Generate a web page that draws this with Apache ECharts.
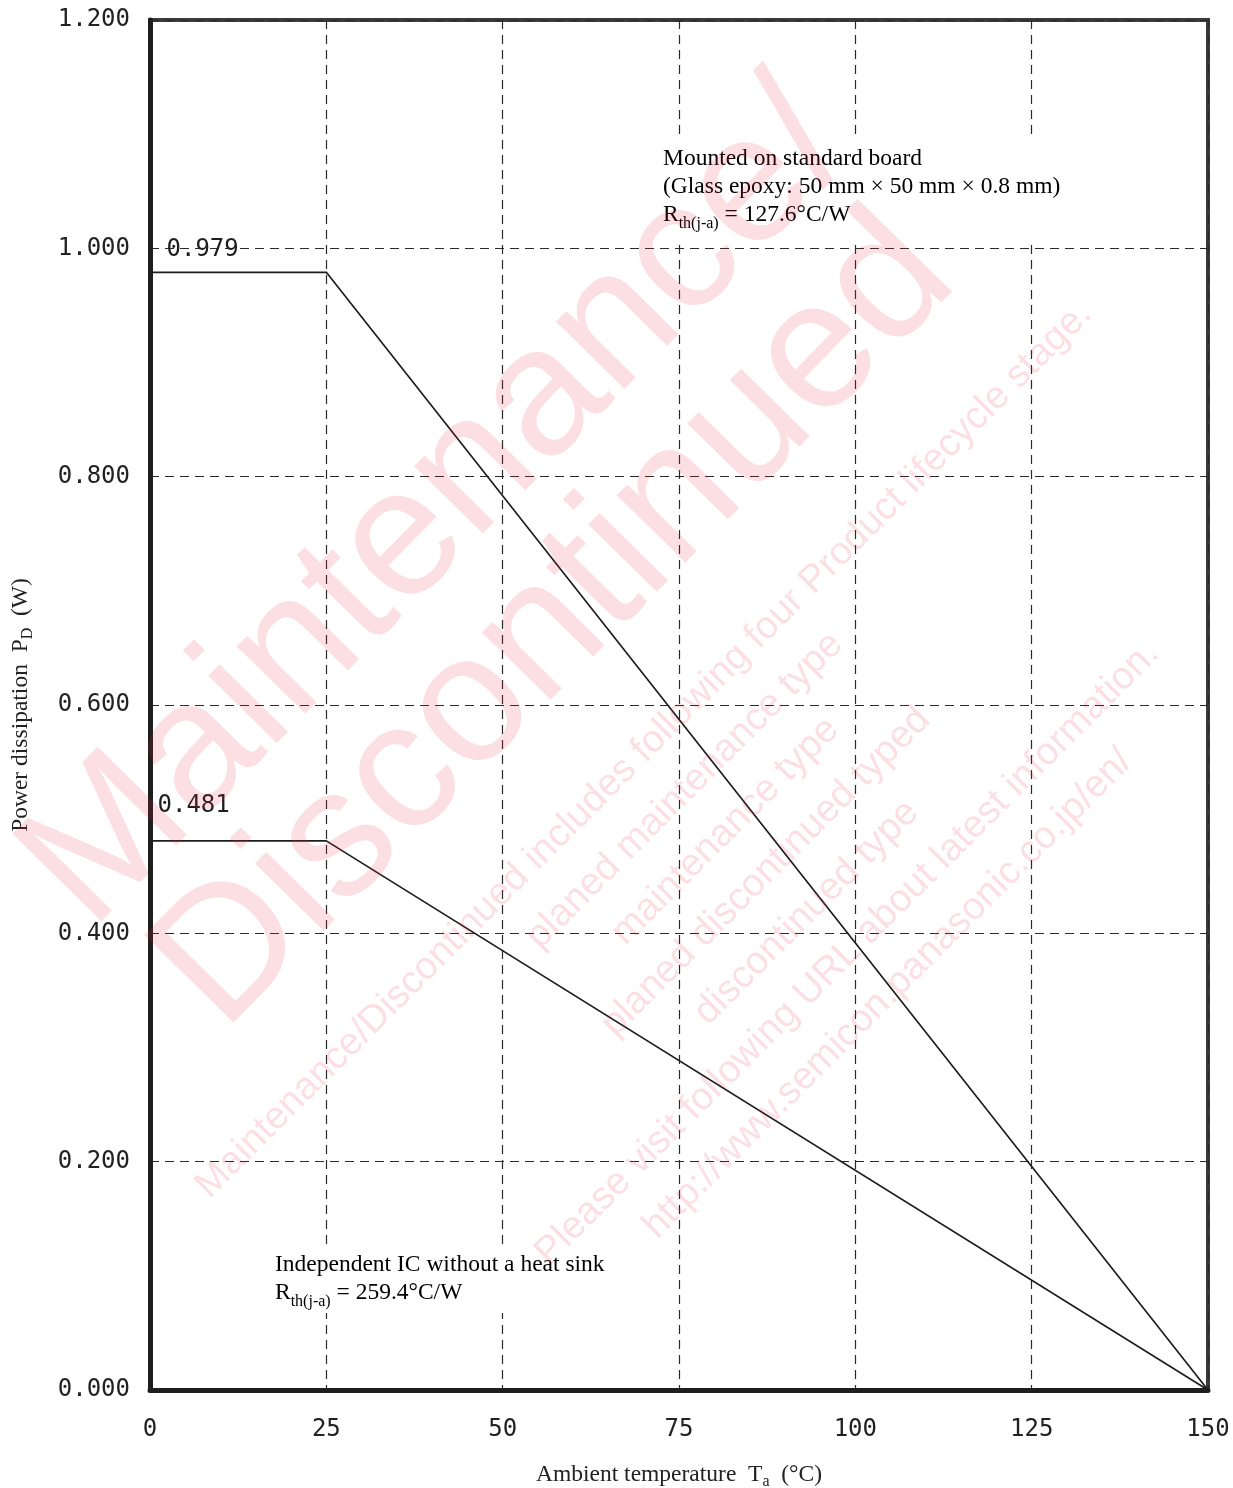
<!DOCTYPE html>
<html>
<head>
<meta charset="utf-8">
<script src="https://cdn.jsdelivr.net/npm/echarts@6/dist/echarts.min.js"></script>
<style>
  html, body { margin: 0; padding: 0; background: #ffffff; }
  #chart { width: 1233px; height: 1488px; }
</style>
</head>
<body>
<div id="chart"></div>
<script>
// Power dissipation derating: PD (W) versus ambient temperature Ta (°C)
const temps = [0, 25, 150];
const boardPd = [0.979, 0.979, 0];   // mounted on standard glass-epoxy board
const bareIcPd = [0.481, 0.481, 0];  // independent IC, no heat sink
const xMin = 0, xMax = 150, xStep = 25;
const yMin = 0, yMax = 1.2, yStep = 0.2;

const boardNote = [
  'Mounted on standard board',
  '(Glass epoxy: 50 mm × 50 mm × 0.8 mm)',
  '{r|R}{s|th(j-a)}{r| = 127.6°C/W}'
];
const bareNote = [
  'Independent IC without a heat sink',
  '{r|R}{s|th(j-a)}{r| = 259.4°C/W}'
];
const stampBig = ['Maintenance/', 'Discontinued'];
const stampSmall = [
  'Maintenance/Discontinued includes following four Product lifecycle stage.',
  'planed maintenance type',
  'maintenance type',
  'planed discontinued typed',
  'discontinued type',
  'Please visit following URL about latest information.',
  'http://www.semicon.panasonic.co.jp/en/'
];

const monoFont = "'DejaVu Sans Mono', 'Liberation Mono', monospace";
const serifFont = "'Liberation Serif', 'DejaVu Serif', serif";
const ink = '#1e1e1e';
const stampColor = 'rgba(232, 40, 70, 0.15)';

function pointLabel(offset) {
  return {
    show: true,
    position: 'right',
    distance: 0,
    offset: offset,
    formatter: p => p.value[1].toFixed(3),
    fontFamily: monoFont,
    fontSize: 24,
    color: ink
  };
}

function curve(values, offset) {
  return temps.map((t, i) => {
    const item = { value: [t, values[i]] };
    if (i === 0) item.label = pointLabel(offset);
    return item;
  });
}

const noteRich = {
  r: { fontFamily: serifFont, fontSize: 23.5, color: '#222', verticalAlign: 'top', lineHeight: 28 },
  s: { fontFamily: serifFont, fontSize: 16, color: '#222', verticalAlign: 'top', lineHeight: 16, padding: [13, 0, 0, 0] }
};

const nameStyle = {
  fontFamily: serifFont, fontSize: 23.5, color: '#222',
  rich: {
    s: { fontFamily: serifFont, fontSize: 16, color: '#222', padding: [14, 0, 0, 0] }
  }
};

const chart = echarts.init(document.getElementById('chart'), null, { renderer: 'canvas' });

chart.setOption({
  backgroundColor: '#ffffff',
  animation: false,
  grid: {
    left: 150, right: 25, top: 20, bottom: 98,
    outerBoundsMode: 'none',
    containLabel: false,
    show: true,
    borderColor: '#3a3a3a',
    borderWidth: 4,
    backgroundColor: 'transparent'
  },
  xAxis: {
    type: 'value',
    min: xMin, max: xMax, interval: xStep,
    name: 'Ambient temperature  T{s|a}  (°C)',
    nameLocation: 'middle',
    nameGap: 70,
    nameTextStyle: nameStyle,
    axisLine: { show: true, lineStyle: { color: ink, width: 5 } },
    axisTick: { show: false },
    axisLabel: { margin: 28, fontFamily: monoFont, fontSize: 24, color: '#222' },
    splitLine: { show: true, lineStyle: { color: '#2a2a2a', width: 1.2, type: [9, 6] } }
  },
  yAxis: {
    type: 'value',
    min: yMin, max: yMax, interval: yStep,
    name: 'Power dissipation  P{s|D}  (W)',
    nameLocation: 'middle',
    nameGap: 114,
    nameRotate: 90,
    nameTextStyle: nameStyle,
    axisLine: { show: true, lineStyle: { color: ink, width: 5 } },
    axisTick: { show: false },
    axisLabel: {
      margin: 20, fontFamily: monoFont, fontSize: 24, color: '#222',
      formatter: v => v.toFixed(3)
    },
    splitLine: { show: true, lineStyle: { color: '#2a2a2a', width: 1.2, type: [9, 6] } }
  },
  series: [
    {
      name: 'board',
      type: 'line',
      data: curve(boardPd, [16, -23]),
      showSymbol: true,
      symbol: 'circle',
      symbolSize: 1,
      itemStyle: { color: 'rgba(0,0,0,0)' },
      lineStyle: { color: ink, width: 1.7 },
      z: 5
    },
    {
      name: 'bare',
      type: 'line',
      data: curve(bareIcPd, [7, -35]),
      showSymbol: true,
      symbol: 'circle',
      symbolSize: 1,
      itemStyle: { color: 'rgba(0,0,0,0)' },
      lineStyle: { color: ink, width: 1.7 },
      z: 5
    }
  ],
  graphic: {
    elements: [
      // clear grid lines behind the notes
      { type: 'rect', z: 1, silent: true, shape: { x: 656, y: 137, width: 412, height: 106 }, style: { fill: '#ffffff' } },
      { type: 'rect', z: 1, silent: true, shape: { x: 270, y: 1247, width: 345, height: 66 }, style: { fill: '#ffffff' } },
      {
        type: 'text', z: 6, silent: true, x: 663, y: 147,
        style: { text: boardNote.map(l => l.indexOf('{') === 0 ? l : '{r|' + l + '}').join('\n'), rich: noteRich }
      },
      {
        type: 'text', z: 6, silent: true, x: 275, y: 1253,
        style: { text: bareNote.map(l => l.indexOf('{') === 0 ? l : '{r|' + l + '}').join('\n'), rich: noteRich }
      },
      // lifecycle stamp
      {
        type: 'text', z: 50, silent: true, x: 497, y: 565, rotation: Math.PI * 45.5 / 180,
        style: {
          text: stampBig.join('\n'),
          font: "182px 'Liberation Sans', Arial, sans-serif",
          fill: stampColor,
          align: 'center', verticalAlign: 'middle',
          lineHeight: 165
        }
      },
      {
        type: 'text', z: 50, silent: true, x: 766, y: 872, rotation: Math.PI / 4,
        style: {
          text: stampSmall.join('\n'),
          font: "38.5px 'Liberation Sans', Arial, sans-serif",
          fill: stampColor,
          align: 'center', verticalAlign: 'middle',
          lineHeight: 57.5
        }
      }
    ]
  }
});
</script>
</body>
</html>
